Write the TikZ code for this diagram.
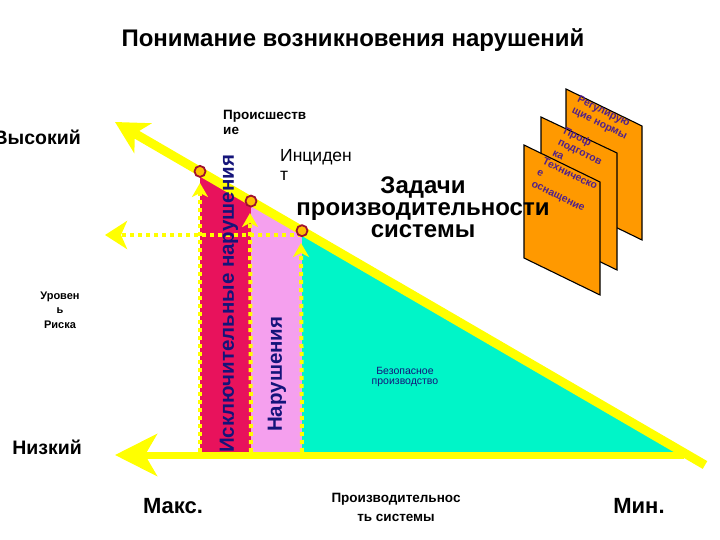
\documentclass[tikz,border=0pt]{standalone}
\usepackage{fontspec}
\setmainfont{Liberation Sans}
\usetikzlibrary{arrows.meta}
\definecolor{ylw}{HTML}{FFFF00}
\definecolor{redcol}{HTML}{E8125C}
\definecolor{pinkcol}{HTML}{F5A0EE}
\definecolor{cyancol}{HTML}{00F5C8}
\definecolor{orng}{HTML}{FF9900}
\definecolor{navytxt}{HTML}{14147A}
\definecolor{pagetxt}{HTML}{50208A}
\definecolor{ringred}{HTML}{A01030}
\definecolor{ringfill}{HTML}{FFC000}
\tikzset{
  dotline/.style={ylw, line width=4pt, dash pattern=on 4pt off 4pt},
  ring/.style={circle, draw=ringred, line width=1.8pt, fill=ringfill, minimum size=11pt, inner sep=0pt},
  page/.style={fill=orng, draw=black, line width=1.1pt},
  pagetext/.style={anchor=north west, rotate=-26, inner sep=0pt, align=left, text=pagetxt,
    font=\bfseries\fontsize{10.5}{12.5}\selectfont},
  coltext/.style={anchor=west, rotate=90, inner sep=0pt, text=navytxt,
    font=\bfseries\fontsize{20.5}{21}\selectfont},
  lbl/.style={inner sep=0pt, align=center},
}
\begin{document}
\begin{tikzpicture}[x=1pt,y=-1pt]
\useasboundingbox (0,0) rectangle (720,540);
\clip (0,0) rectangle (720,540);
% key points
\coordinate (tipD) at (115,122);
\coordinate (endD) at (705,465);
\coordinate (c1) at (200,171.4);
\coordinate (c2) at (251,201.1);
\coordinate (c3) at (302,230.7);
\coordinate (b1) at (200,452);
\coordinate (b2) at (251,452);
\coordinate (b3) at (302,452);
\coordinate (bR) at (681,452);
\coordinate (botEnd) at (684,455);
\coordinate (botTip) at (115,455);
\coordinate (a1) at (200,183);
\coordinate (a2) at (250,213);
\coordinate (a3) at (301,243);
\coordinate (hStart) at (302,235);
\coordinate (hTip) at (105,235);
% coloured regions
\fill[redcol] (c1) -- (c2) -- (b2) -- (b1) -- cycle;
\fill[pinkcol] (c2) -- (c3) -- (b3) -- (b2) -- cycle;
\fill[cyancol] (c3) -- (bR) -- (b3) -- cycle;
% dotted lines with arrows
\draw[dotline, -{Stealth[length=14pt,width=16pt,inset=4pt]}] (b1) -- (a1);
\draw[dotline, -{Stealth[length=14pt,width=16pt,inset=4pt]}] (b2) -- (a2);
\draw[dotline, -{Stealth[length=14pt,width=16pt,inset=4pt]}] (b3) -- (a3);
\draw[dotline, -{Stealth[length=22pt,width=28pt,inset=6pt]}] (hStart) -- (hTip);
% main axes
\draw[ylw, line width=7pt, -{Stealth[length=42pt,width=42pt,inset=12pt]}] (botEnd) -- (botTip);
\draw[ylw, line width=9pt, -{Stealth[length=32pt,width=34pt,inset=9pt]}] (endD) -- (tipD);
% markers
\node[ring] (m1) at (c1) {};
\node[ring] (m2) at (c2) {};
\node[ring] (m3) at (c3) {};
% pages
\filldraw[page] (566,89) -- (642,126) -- (642,240) -- (566,203) -- cycle;
\node[pagetext] (p1) at (580,95) {Регулирую\\щие нормы};
\filldraw[page] (541,117) -- (617,153) -- (617,270) -- (541,233) -- cycle;
\node[pagetext] (p2) at (566,126) {Проф\\подготов\\ка};
\filldraw[page] (524,145) -- (600,182) -- (600,295) -- (524,258) -- cycle;
\node[pagetext] (p3) at (545,157) {Техническо\\е\\оснащение};
% texts
\node[lbl, font=\bfseries\fontsize{24}{26}\selectfont] (title) at (353,40) {Понимание возникновения нарушений};
\node[lbl, anchor=east, font=\bfseries\fontsize{19.5}{20}\selectfont] (high) at (81,137) {Высокий};
\node[lbl, anchor=east, font=\bfseries\fontsize{19.5}{20}\selectfont] (low) at (82,447) {Низкий};
\node[lbl, font=\bfseries\fontsize{11}{14.5}\selectfont] (risk) at (60,310) {Уровен\\ь\\Риска};
\node[lbl, font=\bfseries\fontsize{22}{24}\selectfont] (max) at (173,506) {Макс.};
\node[lbl, font=\bfseries\fontsize{22}{24}\selectfont] (min) at (639,506) {Мин.};
\node[lbl, font=\bfseries\fontsize{13.5}{19}\selectfont] (perf) at (396,507) {Производительнос\\ть системы};
\node[lbl, anchor=north west, align=left, font=\bfseries\fontsize{13.5}{15}\selectfont] (event) at (223,110) {Происшеств\\ие};
\node[lbl, anchor=north west, align=left, font=\fontsize{17.5}{19}\selectfont] (incid) at (280,149) {Инциден\\т};
\node[lbl, font=\bfseries\fontsize{24}{22}\selectfont] (tasks) at (423,207) {Задачи\\производительности\\системы};
\node[lbl, text=navytxt, font=\fontsize{10.5}{10.5}\selectfont] (safe) at (405,377) {Безопасное\\производство};
\node[coltext] (exc) at (229,453) {Исключительные нарушения};
\node[coltext] (viol) at (277,432) {Нарушения};
\end{tikzpicture}
\end{document}
